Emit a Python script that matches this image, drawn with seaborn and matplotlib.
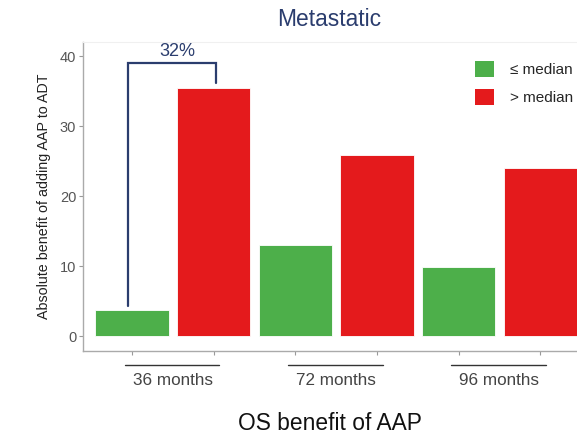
import matplotlib
matplotlib.use("Agg")
import matplotlib.pyplot as plt
import matplotlib.transforms as mtransforms
from matplotlib.patches import Patch
import seaborn as sns
import pandas as pd

# Data
timepoints = ["36 months", "72 months", "96 months"]
groups = ["\u2264 median", "> median"]
benefit_le_median = [3.7, 13.1, 9.9]
benefit_gt_median = [35.4, 25.9, 24.0]
bracket_label = "32%"

colors = {groups[0]: "#4daf4a", groups[1]: "#e41a1c"}
navy = "#2b3d6e"

rows = []
for i, tp in enumerate(timepoints):
    rows.append({"bar": f"{tp} {groups[0]}", "group": groups[0], "value": benefit_le_median[i]})
    rows.append({"bar": f"{tp} {groups[1]}", "group": groups[1], "value": benefit_gt_median[i]})
df = pd.DataFrame(rows)

sns.set_style("white")
plt.rcParams["font.family"] = ["Liberation Sans", "DejaVu Sans"]

fig = plt.figure(figsize=(5.77, 4.34), dpi=100)
ax = fig.add_axes([0.144, 0.191, 0.856, 0.712])

sns.barplot(data=df, x="bar", y="value", hue="group", hue_order=groups,
            palette=colors, saturation=1, dodge=False, width=0.9, ax=ax,
            edgecolor="white", linewidth=0.6, legend=False)

ax.set_xlim(-0.6, 5.45)
ax.set_ylim(-2.1, 42)
ax.set_yticks([0, 10, 20, 30, 40])
ax.set_xticks(range(len(df)))
ax.set_xticklabels([])
ax.set_xlabel("")
ax.set_ylabel("Absolute benefit of adding AAP to ADT", fontsize=10.3, color="#222222", labelpad=6)
ax.tick_params(axis="y", which="major", length=3, width=0.8, color="#999999",
               labelsize=10.5, labelcolor="#555555", pad=2, left=True)
ax.tick_params(axis="x", which="major", length=3, width=0.8, color="#999999", bottom=True)

for side in ["left", "bottom"]:
    ax.spines[side].set_color("#aaaaaa")
    ax.spines[side].set_linewidth(1.0)
ax.spines["top"].set_color("#f0f0f0")
ax.spines["right"].set_visible(False)

# Group labels with overlines beneath the axis
trans = mtransforms.blended_transform_factory(ax.transData, ax.transAxes)
for i, tp in enumerate(timepoints):
    left, right = 2 * i - 0.09, 2 * i + 1.07
    ax.plot([left, right], [-0.045, -0.045], color="#333333", lw=1.0,
            transform=trans, clip_on=False)
    ax.text(2 * i + 0.5, -0.095, tp, transform=trans, ha="center", va="center",
            fontsize=12.3, color="#444444")

# Bracket comparing the first pair of bars
ax.plot([-0.05, -0.05, 1.03, 1.03], [4.3, 39.0, 39.0, 36.1], color=navy, lw=1.6,
        solid_joinstyle="miter")
ax.text(0.55, 39.4, bracket_label, ha="center", va="bottom", fontsize=13, color=navy)

# Legend
handles = [Patch(facecolor=colors[g], edgecolor="none") for g in groups]
ax.legend(handles, groups, loc="upper right", bbox_to_anchor=(1.01, 0.97), frameon=False,
          fontsize=11, handlelength=1.25, handleheight=1.25, handletextpad=1.0,
          labelspacing=0.8, borderaxespad=0.2)

fig.text(0.57, 0.955, "Metastatic", ha="center", va="center", fontsize=16.4, color=navy)
fig.text(0.572, 0.025, "OS benefit of AAP", ha="center", va="center", fontsize=16.4, color="#111111")

fig.savefig("out.png", dpi=100)
